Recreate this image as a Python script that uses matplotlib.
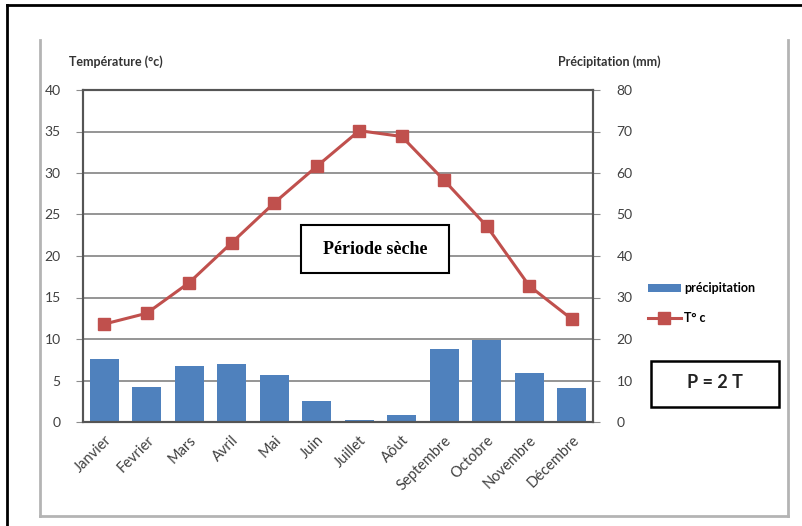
import matplotlib.pyplot as plt
from matplotlib.lines import Line2D
from matplotlib.patches import Rectangle

mois = ["Janvier", "Fevrier", "Mars", "Avril", "Mai", "Juin", "Juillet",
        "Aôut", "Septembre", "Octobre", "Novembre", "Décembre"]
temperature = [11.8, 13.1, 16.8, 21.6, 26.4, 30.8, 35.1, 34.4, 29.1, 23.6, 16.4, 12.4]
precipitation = [15.2, 8.5, 13.4, 14.0, 11.3, 5.0, 0.6, 1.8, 17.6, 19.8, 11.8, 8.2]
temp_ticks = list(range(0, 45, 5))
prec_ticks = list(range(0, 90, 10))

plt.rcParams['font.family'] = ['Lato', 'DejaVu Sans']

W, H = 803, 526
fig = plt.figure(figsize=(W / 100, H / 100), dpi=100)


def fx(px):
    return px / W


def fy(py):
    return 1 - py / H


# black frame (top and left edges only) and light grey chart frame
fig.add_artist(Line2D([fx(7), 1], [fy(5), fy(5)], transform=fig.transFigure,
                      color='black', linewidth=2))
fig.add_artist(Line2D([fx(7), fx(7)], [fy(5), 0], transform=fig.transFigure,
                      color='black', linewidth=2))
grey = dict(transform=fig.transFigure, color='#b4b4b4', linewidth=2)
fig.add_artist(Line2D([fx(40), fx(40)], [fy(40), fy(516)], **grey))
fig.add_artist(Line2D([fx(788), fx(788)], [fy(40), fy(516)], **grey))
fig.add_artist(Line2D([fx(40), fx(788)], [fy(516), fy(516)], **grey))

ax = fig.add_axes([fx(83), fy(422), fx(510), 332 / H])
ax2 = ax.twinx()

x = list(range(len(mois)))
bars = ax2.bar(x, precipitation, width=0.68, color='#4f81bd', zorder=2, label='précipitation')
line, = ax.plot(x, temperature, color='#c0504d', linewidth=2.2, marker='s', markersize=9,
                zorder=3, label='T° c')
ax.set_zorder(ax2.get_zorder() + 1)
ax.patch.set_visible(False)

ax.set_ylim(0, 40)
ax2.set_ylim(0, 80)
ax.set_xlim(-0.5, 11.5)
ax.set_yticks(temp_ticks)
ax2.set_yticks(prec_ticks)
ax2.grid(axis='y', color='#8c8c8c', linewidth=1.3, zorder=0)
ax2.set_axisbelow(True)

for a in (ax, ax2):
    for s in a.spines.values():
        s.set_color('#555555')
        s.set_linewidth(1.5)
ax.tick_params(axis='y', length=5, color='#8c8c8c', labelsize=10, labelcolor='#404040', pad=11)
ax2.tick_params(axis='y', length=5, color='#8c8c8c', labelsize=10, labelcolor='#404040', pad=12)
ax.set_xticks(x)
ax.set_xticklabels(mois, rotation=45, ha='right', rotation_mode='anchor',
                   fontsize=10.5, color='#404040')
ax.tick_params(axis='x', length=0, pad=8)

fig.text(fx(69), fy(62), "Température (°c)", fontsize=9, fontweight='bold',
         color='#333333', va='center', ha='left')
fig.text(fx(661), fy(62), "Précipitation (mm)", fontsize=9, fontweight='bold',
         color='#333333', va='center', ha='right')

fig.legend(handles=[bars, line], loc='upper left', bbox_to_anchor=(fx(642), fy(276)),
           frameon=False, prop={'weight': 'bold', 'size': 9},
           handlelength=2.6, handletextpad=0.25, labelspacing=1.45, borderpad=0)

# "Période sèche" box
fig.add_artist(Rectangle((fx(301), fy(273)), fx(148), 48 / H, transform=fig.transFigure,
                         facecolor='white', edgecolor='black', linewidth=1.5, zorder=5))
fig.text(fx(375), fy(249), "Période sèche", family='Liberation Serif', fontweight='bold',
         fontsize=13, ha='center', va='center', zorder=6)

# "P = 2 T" box
fig.add_artist(Rectangle((fx(651), fy(407)), fx(128), 46 / H, transform=fig.transFigure,
                         facecolor='white', edgecolor='black', linewidth=1.8, zorder=5))
fig.text(fx(715), fy(382), "P = 2 T", fontweight='bold', fontsize=13,
         ha='center', va='center', color='#222222', zorder=6)

fig.savefig("out.png", dpi=100)
